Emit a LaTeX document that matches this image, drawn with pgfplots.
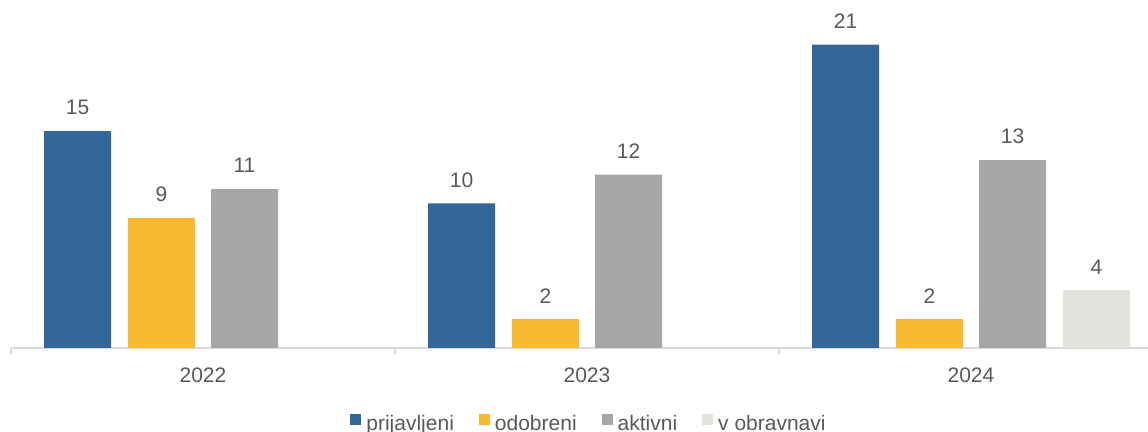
\documentclass[border=0pt]{standalone}
\usepackage{fontspec}
\setmainfont{Liberation Sans}
\usepackage{pgfplots}
\pgfplotsset{compat=1.18}

\definecolor{cblue}{RGB}{52,103,153}
\definecolor{cyellow}{RGB}{249,184,49}
\definecolor{cgray}{RGB}{166,166,166}
\definecolor{clight}{RGB}{227,227,222}
\definecolor{ctext}{RGB}{89,89,89}
\definecolor{caxis}{RGB}{217,217,217}

\begin{document}
\begin{tikzpicture}[font=\fontsize{10.5}{12.5}\selectfont, text=ctext]
\begin{axis}[
    name=ax,
    scale only axis,
    width=568.5pt, height=174pt,
    xmin=-0.5, xmax=2.461,
    ymin=0, ymax=24.08,
    axis y line=none,
    axis x line*=bottom,
    x axis line style={draw=caxis, line width=0.75pt, -},
    xtick={0,1,2},
    xticklabels={2022,2023,2024},
    major tick length=0pt,
    minor xtick={-0.5,0.5,1.5},
    minor tick length=3pt,
    tick align=outside,
    minor tick style={draw=caxis, line width=0.75pt},
    xticklabel style={yshift=-6.5pt, text=ctext},
    ybar,
    bar width=0.1745,
    /pgf/number format/assume math mode=true,
    nodes near coords,
    every node near coord/.append style={yshift=4.5pt, text=ctext, font=\fontsize{10.5}{12.5}\selectfont},
    legend columns=4,
    legend style={draw=none, fill=none, at={(0.5,0)}, xshift=5.5pt, yshift=-38pt, anchor=center,
        /tikz/every even column/.append style={column sep=10pt},
        nodes={inner xsep=2.5pt, text=ctext}},
    legend image code/.code={\fill (0pt,-0.5pt) rectangle (5.5pt,5pt);},
]
\addplot[fill=cblue, draw=none, bar shift=-0.3268] coordinates {(0,15) (1,10) (2,21)};
\addplot[fill=cyellow, draw=none, bar shift=-0.1081] coordinates {(0,9) (1,2) (2,2)};
\addplot[fill=cgray, draw=none, bar shift=0.1081] coordinates {(0,11) (1,12) (2,13)};
\addplot[fill=clight, draw=none, bar shift=0.3268] coordinates {(2,4)};
\legend{prijavljeni, odobreni, aktivni, v obravnavi}
\end{axis}
\pgfresetboundingbox
\path[use as bounding box] ([xshift=-5.5pt,yshift=-42pt]ax.south west) rectangle (ax.north east);
\end{tikzpicture}
\end{document}
